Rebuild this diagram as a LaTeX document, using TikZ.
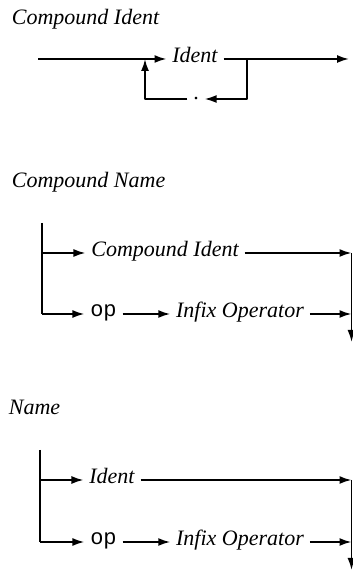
\documentclass[tikz,border=0pt]{standalone}
\usepackage{fontspec}
\setmainfont{Liberation Serif}
\setmonofont{Liberation Mono}
\usetikzlibrary{arrows.meta}

\begin{document}
\begin{tikzpicture}[>={Latex[length=12bp,width=8bp]},line join=bevel,line width=1.8bp,
  title/.style={anchor=base west,inner sep=0pt,font=\fontsize{22bp}{25bp}\selectfont\itshape},
  term/.style={inner xsep=5bp,inner ysep=0pt,text height=0.66em,text depth=0pt,font=\fontsize{22bp}{25bp}\selectfont\itshape},
  tok/.style={inner xsep=5bp,inner ysep=0pt,text height=0.42em,text depth=0pt,font=\fontsize{22bp}{25bp}\selectfont\ttfamily},
  dot/.style={inner xsep=5bp,inner ysep=0pt,text height=0.1em,text depth=0pt,font=\fontsize{22bp}{25bp}\selectfont}]
\useasboundingbox (0bp,0bp) rectangle (353bp,573bp);
%% Compound Ident
\node (node_t1) at (11bp,548bp) [title] {Compound Ident};
  \coordinate (node_in1) at (38bp,514bp);
  \coordinate (node_join1) at (145bp,514bp);
  \node (node_ident1) at (195bp,514bp) [term] {Ident};
  \coordinate (node_split1) at (247bp,514bp);
  \coordinate (node_out1) at (349bp,514bp);
  \coordinate (node_down1) at (247bp,474bp);
  \node (node_dot1) at (196bp,474bp) [dot] {.};
  \coordinate (node_back1) at (145bp,474bp);
  \draw [black,->] (node_in1) -- (node_ident1);
  \draw [black,->] (node_ident1) -- (node_out1);
  \draw [black,->] (node_split1) -- (node_down1) -- (node_dot1);
  \draw [black,->] (node_dot1) -- (node_back1) -- (node_join1);
%% Compound Name
\node (node_t2) at (11bp,385bp) [title] {Compound Name};
  \coordinate (node_l2top) at (42bp,350bp);
  \coordinate (node_l2a) at (42bp,320bp);
  \coordinate (node_l2b) at (42bp,259bp);
  \node (node_cident2) at (165bp,320bp) [term] {Compound Ident};
  \node (node_op2) at (103.5bp,259bp) [tok] {op};
  \node (node_infix2) at (240bp,259bp) [term] {Infix Operator};
  \coordinate (node_r2a) at (351.5bp,320bp);
  \coordinate (node_r2b) at (351.5bp,259bp);
  \coordinate (node_r2end) at (351.5bp,231bp);
  \draw [black] (node_l2top) -- (node_l2b);
  \draw [black,->] (node_l2a) -- (node_cident2);
  \draw [black,->] (node_l2b) -- (node_op2);
  \draw [black,->] (node_op2) -- (node_infix2);
  \draw [black,->] (node_cident2) -- (node_r2a);
  \draw [black,->] (node_infix2) -- (node_r2b);
  \draw [black,->] (node_r2a) -- (node_r2end);
%% Name
\node (node_t3) at (8bp,158bp) [title] {Name};
  \coordinate (node_l3top) at (40bp,123bp);
  \coordinate (node_l3a) at (40bp,93bp);
  \coordinate (node_l3b) at (40bp,31bp);
  \node (node_ident3) at (112bp,93bp) [term] {Ident};
  \node (node_op3) at (103.5bp,31bp) [tok] {op};
  \node (node_infix3) at (240bp,31bp) [term] {Infix Operator};
  \coordinate (node_r3a) at (351.5bp,93bp);
  \coordinate (node_r3b) at (351.5bp,31bp);
  \coordinate (node_r3end) at (351.5bp,3bp);
  \draw [black] (node_l3top) -- (node_l3b);
  \draw [black,->] (node_l3a) -- (node_ident3);
  \draw [black,->] (node_l3b) -- (node_op3);
  \draw [black,->] (node_op3) -- (node_infix3);
  \draw [black,->] (node_ident3) -- (node_r3a);
  \draw [black,->] (node_infix3) -- (node_r3b);
  \draw [black,->] (node_r3a) -- (node_r3end);
%
\end{tikzpicture}
\end{document}
